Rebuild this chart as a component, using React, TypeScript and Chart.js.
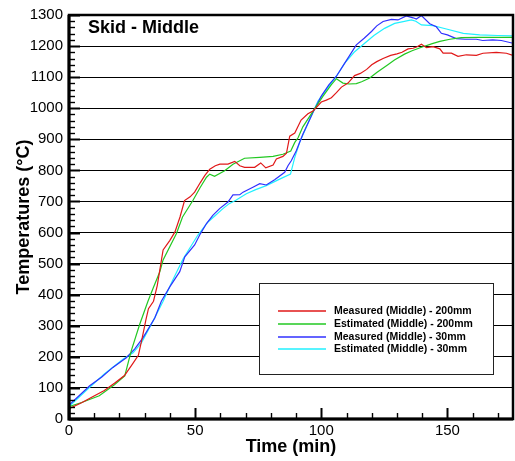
import { useEffect, useRef } from "react";
import { Chart, registerables } from "chart.js";

Chart.register(...registerables);

const FONT = '"Liberation Sans", Arial, Helvetica, sans-serif';
const TITLE = "Skid - Middle";
const X_TITLE = "Time (min)";
const Y_TITLE = "Temperatures (\u00B0C)";
const X_TICKS = [0, 50, 100, 150];
const Y_TICKS = [0, 100, 200, 300, 400, 500, 600, 700, 800, 900, 1000, 1100, 1200, 1300];
const X_MIN = 0;
const X_MAX = 176;
const Y_MIN = 0;
const Y_MAX = 1300;

const SERIES_LABELS = [
  "Measured (Middle) - 200mm",
  "Estimated (Middle) - 200mm",
  "Measured (Middle) - 30mm",
  "Estimated (Middle) - 30mm",
];
const SERIES_COLORS = ["#e01818", "#22c822", "#3030ff", "#20f0ff"];

// Measured 200mm (red)
const RED_T = [0, 5, 9, 14, 18, 22, 25, 27.5, 29, 30.5, 31.5, 33.5, 35, 37.3, 40, 42, 44, 45.8, 48, 49.8, 52, 53.8, 55.8, 58, 59.8, 63, 65.7, 67.7, 69.6, 73.6, 76, 78, 80.9, 82.2, 84.8, 86.2, 87.5, 89.5, 92, 94.7, 96.7, 98, 100, 102, 104, 106, 108, 110.6, 113.2, 115.5, 118, 120, 122, 124.5, 127.5, 130, 132, 134.4, 136.4, 138, 139.7, 141.7, 144.3, 147, 148.3, 151.6, 154.2, 157.5, 161.5, 164.1, 169.4, 173.4, 176];
const RED_V = [33, 52, 70, 92, 115, 140, 175, 205, 260, 320, 355, 379, 430, 544, 575, 602, 650, 703, 715, 730, 760, 783, 804, 815, 820, 820, 829, 815, 810, 810, 824, 808, 817, 837, 845, 855, 910, 920, 962, 982, 991, 1002, 1020, 1026, 1034, 1050, 1068, 1081, 1105, 1112, 1125, 1140, 1150, 1160, 1170, 1175, 1180, 1191, 1193, 1198, 1206, 1195, 1198, 1191, 1177, 1177, 1167, 1172, 1170, 1177, 1180, 1177, 1170];

// Estimated 200mm (green)
const GREEN_T = [0, 5, 12, 18, 22.1, 24.7, 28, 31.3, 33.3, 36, 37.3, 42.6, 45, 49.1, 52, 54.5, 55.8, 57.7, 61.7, 65, 69.6, 75.6, 80.9, 84.8, 87.9, 89.5, 90.8, 92.7, 96.7, 100.7, 104, 106, 108.6, 111, 113.9, 116, 119.2, 122, 126.4, 129, 133, 136, 140, 144, 147, 151, 155.5, 162.8, 176];
const GREEN_V = [40, 53, 75, 110, 139, 220, 304, 379, 420, 474, 512, 597, 650, 703, 745, 778, 788, 781, 799, 820, 839, 842, 845, 852, 862, 890, 905, 940, 990, 1039, 1076, 1095, 1081, 1078, 1079, 1085, 1097, 1115, 1140, 1155, 1174, 1185, 1197, 1208, 1215, 1222, 1227, 1228, 1228];

// Measured 30mm (blue)
const BLUE_T = [0, 4, 8.2, 13, 17.4, 22.7, 26, 29.3, 34, 36.6, 40, 43.9, 45.9, 49.8, 52, 54.5, 57, 59.7, 63, 65, 67.7, 69, 72.9, 75.6, 78.2, 81.5, 85.5, 86.8, 88.1, 90.1, 92.7, 96.7, 100, 103, 106, 109.3, 113.9, 117, 119.9, 122, 124.5, 127.8, 130.4, 133.7, 136.4, 137.7, 139.7, 143, 145.6, 147.6, 150, 153.5, 157, 161.5, 164, 168, 171.4, 176];
const BLUE_V = [45, 75, 107, 135, 166, 197, 225, 261, 325, 379, 426, 474, 522, 560, 595, 629, 655, 677, 698, 721, 722, 730, 746, 757, 753, 770, 794, 815, 831, 863, 916, 986, 1039, 1075, 1103, 1145, 1204, 1225, 1247, 1265, 1279, 1286, 1284, 1297, 1291, 1287, 1298, 1272, 1262, 1241, 1236, 1224, 1222, 1222, 1218, 1220, 1218, 1209];

// Estimated 30mm (cyan)
const CYAN_T = [0, 8.2, 14, 21.4, 25.4, 28.7, 33.3, 37.3, 41, 45.2, 51.1, 55.1, 58, 61, 63.5, 66.3, 70.3, 74, 78.2, 83.5, 87.8, 89.5, 90.8, 91.4, 95.4, 98.7, 102, 106, 109.3, 113, 117.2, 121, 125.1, 129.1, 132, 135.7, 137.5, 139.7, 144.3, 149.6, 156.3, 162.8, 170, 176];
const CYAN_V = [40, 102, 145, 192, 213, 245, 315, 379, 445, 515, 592, 634, 655, 677, 693, 705, 725, 738, 751, 772, 788, 842, 874, 890, 964, 1023, 1060, 1103, 1145, 1180, 1209, 1235, 1257, 1273, 1278, 1284, 1280, 1268, 1266, 1255, 1241, 1236, 1234, 1233];

const SERIES_T = [RED_T, GREEN_T, BLUE_T, CYAN_T];
const SERIES_V = [RED_V, GREEN_V, BLUE_V, CYAN_V];

const framePlugin = {
  id: "framePlugin",
  afterDraw(chart: any) {
    const ctx = chart.ctx as CanvasRenderingContext2D;
    const { left, right, top, bottom } = chart.chartArea;
    const xs = chart.scales.x;
    const ys = chart.scales.y;
    ctx.save();
    ctx.strokeStyle = "#000";
    ctx.lineCap = "butt";
    // minor / major ticks (inward)
    for (let v = Y_MIN; v <= Y_MAX; v += 20) {
      const y = Math.round(ys.getPixelForValue(v)) + 0.5;
      const major = v % 100 === 0;
      ctx.lineWidth = major ? 2 : 1.4;
      ctx.beginPath();
      ctx.moveTo(left, y);
      ctx.lineTo(left + (major ? 11 : 6), y);
      ctx.stroke();
    }
    for (let v = X_MIN; v <= X_MAX; v += 10) {
      const x = Math.round(xs.getPixelForValue(v)) + 0.5;
      const major = v % 50 === 0;
      ctx.lineWidth = major ? 2 : 1.4;
      ctx.beginPath();
      ctx.moveTo(x, bottom);
      ctx.lineTo(x, bottom - (major ? 11 : 6));
      ctx.stroke();
    }
    // frame
    ctx.lineWidth = 2.5;
    ctx.strokeRect(left, top, right - left, bottom - top);
    ctx.beginPath();
    ctx.lineWidth = 3;
    ctx.moveTo(left, top);
    ctx.lineTo(left, bottom);
    ctx.lineTo(right, bottom);
    ctx.stroke();

    // inner title
    ctx.fillStyle = "#000";
    ctx.font = `bold 18px ${FONT}`;
    ctx.textAlign = "left";
    ctx.textBaseline = "alphabetic";
    ctx.fillText(TITLE, 88, 33);

    // axis titles
    ctx.textAlign = "center";
    ctx.fillText(X_TITLE, (left + right) / 2, 452);
    ctx.save();
    ctx.translate(29, (top + bottom) / 2);
    ctx.rotate(-Math.PI / 2);
    ctx.fillText(Y_TITLE, 0, 0);
    ctx.restore();

    // legend box
    const bx = 259, by = 283, bw = 234, bh = 91;
    ctx.fillStyle = "#fff";
    ctx.fillRect(bx, by, bw, bh);
    ctx.lineWidth = 1;
    ctx.strokeStyle = "#222";
    ctx.strokeRect(bx + 0.5, by + 0.5, bw, bh);
    const rows = [311, 324, 337, 349];
    ctx.font = `bold 10.5px ${FONT}`;
    ctx.textAlign = "left";
    ctx.textBaseline = "middle";
    SERIES_LABELS.forEach((lab, i) => {
      ctx.strokeStyle = SERIES_COLORS[i];
      ctx.lineWidth = 1.5;
      ctx.beginPath();
      ctx.moveTo(278, rows[i]);
      ctx.lineTo(326, rows[i]);
      ctx.stroke();
      ctx.fillStyle = "#000";
      ctx.fillText(lab, 334, rows[i] + 0.5);
    });
    ctx.restore();
  },
};

export default function App() {
  const ref = useRef<HTMLCanvasElement | null>(null);
  useEffect(() => {
    if (!ref.current) return;
    const datasets = SERIES_LABELS.map((label, i) => ({
      label,
      data: SERIES_T[i].map((t, j) => ({ x: t, y: SERIES_V[i][j] })),
      borderColor: SERIES_COLORS[i],
      backgroundColor: SERIES_COLORS[i],
      borderWidth: 1.2,
      pointRadius: 0,
      tension: 0,
      fill: false,
    }));
    const chart = new Chart(ref.current, {
      type: "line",
      data: { datasets },
      options: {
        animation: false,
        responsive: false,
        devicePixelRatio: 1,
        layout: { padding: { top: 12, right: 2, left: 0, bottom: 0 } },
        plugins: { legend: { display: false }, tooltip: { enabled: false }, title: { display: false } },
        scales: {
          x: {
            type: "linear",
            min: X_MIN,
            max: X_MAX,
            grid: { display: false, drawTicks: false },
            border: { display: false },
            afterBuildTicks: (s: any) => {
              s.ticks = X_TICKS.map((v) => ({ value: v }));
            },
            afterFit: (s: any) => {
              s.height = 42;
            },
            ticks: {
              color: "#000",
              font: { family: FONT, size: 15 },
              padding: 3,
              maxRotation: 0,
              autoSkip: false,
              callback: (v: any) => String(v),
            },
          },
          y: {
            type: "linear",
            min: Y_MIN,
            max: Y_MAX,
            grid: { display: true, color: "#000", lineWidth: 1, drawTicks: false },
            border: { display: false },
            afterBuildTicks: (s: any) => {
              s.ticks = Y_TICKS.map((v) => ({ value: v }));
            },
            afterFit: (s: any) => {
              s.width = 69;
            },
            ticks: {
              color: "#000",
              font: { family: FONT, size: 15 },
              padding: 6,
              autoSkip: false,
              callback: (v: any) => String(v),
            },
          },
        },
      },
      plugins: [framePlugin],
    });
    return () => chart.destroy();
  }, []);
  return (
    <div style={{ position: "absolute", left: 0, top: 0, width: 515, height: 461, background: "#fff" }}>
      <canvas ref={ref} width={515} height={461} style={{ display: "block", width: 515, height: 461 }} />
    </div>
  );
}
